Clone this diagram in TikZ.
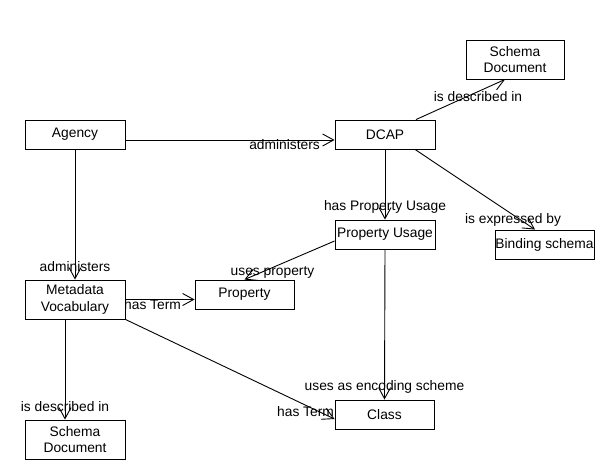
\documentclass[tikz,border=0pt]{standalone}
\usepackage{fontspec}
\setmainfont{Liberation Sans}
\usetikzlibrary{arrows.meta}
\pgfdeclarelayer{bg}
\pgfsetlayers{bg,main}
\begin{document}
\begin{tikzpicture}[x=1pt,y=-1pt,
  txt/.style={font=\fontsize{13.8}{16.7}\selectfont},
  box/.style={txt, draw, fill=white, line width=0.9pt, inner sep=0pt,
    minimum width=100pt, minimum height=29pt, align=center},
  tall/.style={box, minimum height=39pt},
  link/.style={draw, line width=0.9pt, -{Straight Barb[length=11pt,width=12pt]}},
  lbl/.style={txt, inner sep=0pt}]

\begin{pgfonlayer}{bg}
  \fill[white] (0,0) rectangle (614,476);
\end{pgfonlayer}
\useasboundingbox (0,0) rectangle (614,476);

% classes
\node[box] (agency) at (75,134.5) {Agency};
\node[box] (dcap) at (385,134.5) {DCAP};
\node[tall, minimum width=98pt] (sd1) at (515,59.5) {Schema\\Document};
\node[box] (pu) at (385,234.5) {Property Usage};
\node[box, minimum width=99pt] (bind) at (544.5,244.5) {Binding schema};
\node[tall] (mv) at (75,299.5) {Metadata\\Vocabulary};
\node[box, minimum width=99pt] (prop) at (244.5,294.5) {Property};
\node[box, minimum width=99pt] (class) at (384.5,414.5) {Class};
\node[tall] (sd2) at (75,439.5) {Schema\\Document};

% associations
\begin{pgfonlayer}{bg}
  \draw[link] ([yshift=-5.5pt]agency.east) -- ([yshift=-5.5pt]dcap.west)
    node[lbl, at end, xshift=-50pt, yshift=-5pt] {administers};
  \draw[link] (agency.south) -- (mv.north)
    node[lbl, at end, yshift=12.5pt] {administers};
  \draw[link] ([xshift=31pt]dcap.north) -- ([xshift=-10pt]sd1.south)
    node[lbl, at end, xshift=-27pt, yshift=-17pt] {is described in};
  \draw[link] ([xshift=30pt]dcap.south) -- ([xshift=-9.5pt]bind.north)
    node[lbl, at end, xshift=-22pt, yshift=9.5pt] {is expressed by};
  \draw[link] (dcap.south) -- (pu.north)
    node[lbl, at end, yshift=12.5pt] {has Property Usage};
  \draw[link] ([yshift=-6.5pt]pu.west) -- (prop.north)
    node[lbl, at end, xshift=28pt, yshift=7.5pt] {uses property};
  \draw[link] (pu.south) -- (class.north)
    node[lbl, at end, yshift=12.5pt] {uses as encoding scheme};
  \draw[link] (mv.east) -- (mv.east -| prop.west)
    node[lbl, at end, xshift=-42pt, yshift=-5pt] {has Term};
  \draw[link] (mv.south east) -- ([yshift=-4.5pt]class.west)
    node[lbl, at end, xshift=-29pt, yshift=7.5pt] {has Term};
  \draw[link] ([xshift=-10pt]mv.south) -- ([xshift=-10pt]sd2.north)
    node[lbl, at end, yshift=12.5pt] {is described in};
\end{pgfonlayer}
\end{tikzpicture}
\end{document}
